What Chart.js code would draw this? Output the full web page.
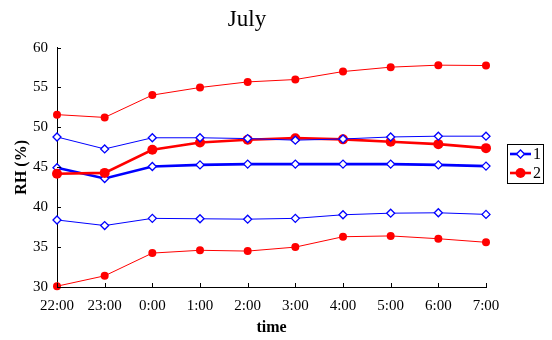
<!DOCTYPE html>
<html lang="en">
<head>
    <meta charset="UTF-8">
    <title>July RH</title>
    <script src="https://cdn.jsdelivr.net/npm/chart.js"></script>
    <style>
        body { margin: 0; background: #fff; }
        .chart-container { width: 552px; height: 340px; position: relative; }
    </style>
</head>
<body>
    <div class="chart-container">
        <canvas id="rhChart"></canvas>
    </div>
    <script>
        // values
        const times = ['22:00', '23:00', '0:00', '1:00', '2:00', '3:00', '4:00', '5:00', '6:00', '7:00'];
        const series1 = [44.95, 43.6, 45.1, 45.3, 45.4, 45.4, 45.4, 45.4, 45.3, 45.15];
        const series2 = [44.2, 44.3, 47.2, 48.1, 48.45, 48.65, 48.5, 48.2, 47.9, 47.4];
        const series1Upper = [48.8, 47.3, 48.7, 48.7, 48.6, 48.4, 48.55, 48.8, 48.9, 48.9];
        const series1Lower = [38.4, 37.7, 38.6, 38.55, 38.5, 38.6, 39.05, 39.25, 39.3, 39.1];
        const series2Upper = [51.6, 51.25, 54.05, 55.0, 55.7, 56.0, 57.0, 57.55, 57.8, 57.75];
        const series2Lower = [30.1, 31.4, 34.25, 34.6, 34.5, 35.0, 36.3, 36.4, 36.05, 35.6];
        const yTicks = [30, 35, 40, 45, 50, 55, 60];

        const BLUE = '#0000ff';
        const RED = '#ff0000';
        const SERIF = '"Liberation Serif", "DejaVu Serif", serif';

        function blueSet(label, data, thick) {
            return {
                label: label, data: data, borderColor: BLUE, backgroundColor: '#fff',
                borderWidth: thick ? 2.6 : 1, pointStyle: 'rectRot',
                pointRadius: 4, pointBorderWidth: 1.3, pointBackgroundColor: '#fff',
                pointBorderColor: BLUE, clip: false, inLegend: thick
            };
        }
        function redSet(label, data, thick) {
            return {
                label: label, data: data, borderColor: RED, backgroundColor: RED,
                borderWidth: thick ? 2.6 : 1, pointStyle: 'circle',
                pointRadius: thick ? 5 : 4, pointBorderWidth: 0, pointBackgroundColor: RED,
                pointBorderColor: RED, clip: false, inLegend: thick
            };
        }

        // ticks that cross the axis lines
        const crossTicks = {
            id: 'crossTicks',
            afterDraw(chart) {
                const ctx = chart.ctx, x = chart.scales.x, y = chart.scales.y;
                const area = chart.chartArea;
                ctx.save();
                ctx.strokeStyle = '#000';
                ctx.lineWidth = 1;
                ctx.beginPath();
                x.ticks.forEach((t, i) => {
                    const px = Math.round(x.getPixelForTick(i)) + 0.5;
                    ctx.moveTo(px, area.bottom - 4);
                    ctx.lineTo(px, area.bottom);
                });
                y.ticks.forEach((t, i) => {
                    const py = Math.round(y.getPixelForTick(i)) + 0.5;
                    ctx.moveTo(area.left, py);
                    ctx.lineTo(area.left + 4, py);
                });
                ctx.stroke();
                ctx.restore();
            }
        };

        // boxed legend on the right, only the two main series
        const boxLegend = {
            id: 'boxLegend',
            afterDraw(chart) {
                const ctx = chart.ctx;
                const sets = chart.data.datasets.filter(d => d.inLegend)
                    .sort((a, b) => a.label.localeCompare(b.label));
                const left = chart.chartArea.right + 21;
                const top = 144;
                const w = 36, h = 39;
                ctx.save();
                ctx.strokeStyle = '#000';
                ctx.lineWidth = 1;
                ctx.strokeRect(left + 0.5, top + 0.5, w, h);
                ctx.font = '16px ' + SERIF;
                ctx.textBaseline = 'middle';
                sets.forEach((d, i) => {
                    const cy = top + 10 + i * 19;
                    ctx.strokeStyle = d.borderColor;
                    ctx.lineWidth = d.borderWidth;
                    ctx.beginPath();
                    ctx.moveTo(left + 3, cy);
                    ctx.lineTo(left + 24, cy);
                    ctx.stroke();
                    ctx.fillStyle = d.pointBackgroundColor;
                    ctx.strokeStyle = d.pointBorderColor;
                    ctx.lineWidth = d.pointBorderWidth || 1;
                    Chart.helpers.drawPoint(ctx, {
                        pointStyle: d.pointStyle, radius: d.pointRadius,
                        borderWidth: d.pointBorderWidth, rotation: 0
                    }, left + 13.5, cy);
                    ctx.fillStyle = '#000';
                    ctx.fillText(d.label, left + 26, cy + 1);
                });
                ctx.restore();
            }
        };

        const ctx = document.getElementById('rhChart').getContext('2d');
        new Chart(ctx, {
            type: 'line',
            data: {
                labels: times,
                datasets: [
                    redSet('2 upper', series2Upper, false),
                    blueSet('1 upper', series1Upper, false),
                    blueSet('1 lower', series1Lower, false),
                    redSet('2 lower', series2Lower, false),
                    redSet('2', series2, true),
                    blueSet('1', series1, true)
                ]
            },
            options: {
                responsive: true,
                maintainAspectRatio: false,
                animation: false,
                layout: { padding: { top: 3, right: 66, bottom: 3, left: 8 } },
                scales: {
                    x: {
                        offset: false,
                        grid: { display: false, drawTicks: true, tickLength: 5, tickColor: '#000' },
                        border: { color: '#000', width: 1 },
                        ticks: { color: '#000', font: { family: SERIF, size: 15 }, maxRotation: 0, padding: 5 },
                        title: { display: true, text: 'time', color: '#000', font: { family: SERIF, size: 16, weight: 'bold' }, padding: { top: 0, bottom: 0 } },
                        afterFit: scale => { scale.height = 50; }
                    },
                    y: {
                        min: 30, max: 60,
                        afterBuildTicks: scale => { scale.ticks = yTicks.map(v => ({ value: v })); },
                        grid: { display: false, drawTicks: true, tickLength: 5, tickColor: '#000' },
                        border: { color: '#000', width: 1 },
                        ticks: { color: '#000', font: { family: SERIF, size: 15 }, padding: 4 },
                        title: { display: true, text: 'RH (%)', color: '#000', font: { family: SERIF, size: 16, weight: 'bold' }, padding: { bottom: 0 } },
                        afterFit: scale => { scale.width = 49; }
                    }
                },
                plugins: {
                    legend: { display: false },
                    tooltip: { enabled: false },
                    title: {
                        display: true, text: 'July', color: '#000',
                        font: { family: SERIF, size: 23, weight: 'normal' },
                        padding: { top: 3, bottom: 14 }
                    }
                }
            },
            plugins: [crossTicks, boxLegend]
        });
    </script>
</body>
</html>
